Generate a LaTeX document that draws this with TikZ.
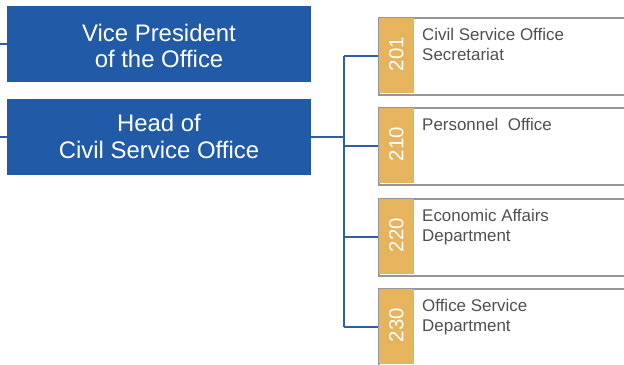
\documentclass[tikz,border=0pt]{standalone}
\usepackage{fontspec}
\setmainfont{Liberation Sans}
\definecolor{vpblue}{RGB}{33,90,167}
\definecolor{lineblue}{RGB}{46,94,170}
\definecolor{gold}{RGB}{230,180,92}
\definecolor{boxgray}{RGB}{150,150,150}
\definecolor{txtgray}{RGB}{80,80,80}
\tikzset{
  headbox/.style={fill=vpblue, draw=none, minimum width=304bp, minimum height=76bp, inner sep=0pt,
    text=white, align=center, font=\fontsize{24}{26.5}\selectfont},
  headtext/.style={text=white, align=center, inner sep=0pt, font=\fontsize{24}{26.5}\selectfont},
  unitbox/.style={fill=white, draw=boxgray, line width=1.5bp, minimum width=260bp, minimum height=77bp, inner sep=0pt, anchor=north west},
  codestrip/.style={fill=gold, draw=none, anchor=north west, minimum width=35bp, minimum height=75.5bp, inner sep=0pt},
  codetext/.style={text=white, rotate=90, font=\fontsize{20.5}{24}\selectfont, inner sep=0pt},
  unittext/.style={text=txtgray, anchor=north west, align=left, inner sep=0pt, font=\fontsize{17}{20.3}\selectfont},
  conn/.style={draw=lineblue, line width=1.3bp}
}
\begin{document}
\begin{tikzpicture}[x=1bp,y=-1bp]
\useasboundingbox (0,0) rectangle (624,364);
\clip (0,0) rectangle (624,364);
% head boxes
\node[headbox] (vp) at (159,44) {};
\node[headtext] (vpt) at (159,46) {Vice President\\of the Office};
\node[headbox] (head) at (159,137) {};
\node[headtext] (headt) at (159,136.5) {Head of\\Civil Service Office};
\coordinate (vpl) at (0,44);
\coordinate (hl) at (0,137);
\draw[conn] (vpl) -- (vp.west);
\draw[conn] (hl) -- (head.west);
\coordinate (trunk) at (344,137);
\draw[conn] (head.east) -- (trunk);
% unit boxes
\foreach \n/\y/\code/\txt in {u1/17/201/{Civil Service Office\\Secretariat},
                              u2/107/210/{Personnel\ \ Office},
                              u3/198/220/{Economic Affairs\\Department},
                              u4/288/230/{Office Service\\Department}}{
  \node[unitbox] (\n) at (378,\y) {};
  \node[codestrip] (\n s) at ([xshift=0.75bp,yshift=-0.75bp]\n.north west) {};
  \node[codetext] (\n c) at ([yshift=1.5bp]\n s.center) {\code};
  \node[unittext] (\n t) at (422,\y+11) {\txt};
}
\coordinate (ttop) at (344,56);
\coordinate (tbot) at (344,327);
\draw[conn] (ttop) -- (tbot);
\draw[conn] (ttop) -- (u1.west |- ttop);
\coordinate (b2) at (344,146);
\coordinate (b3) at (344,237);
\draw[conn] (b2) -- (u2.west |- b2);
\draw[conn] (b3) -- (u3.west |- b3);
\draw[conn] (tbot) -- (u4.west |- tbot);
\end{tikzpicture}
\end{document}
